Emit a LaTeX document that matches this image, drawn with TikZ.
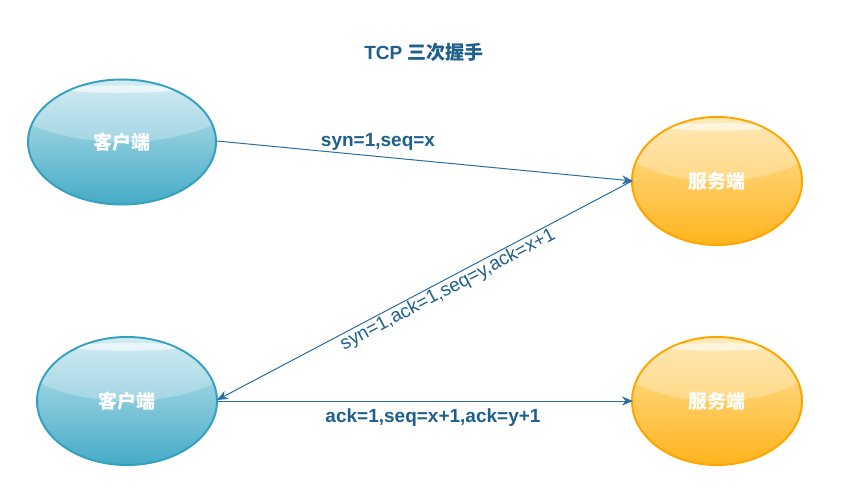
\documentclass[tikz,border=0pt]{standalone}
\usepackage{fontspec}
\setmainfont{Liberation Sans}
\newfontfamily\cjk{Noto Sans CJK SC}
\usetikzlibrary{shapes.geometric,arrows.meta}
\definecolor{lineblue}{HTML}{2B6CA3}
\definecolor{textblue}{HTML}{1E5F8C}
\definecolor{cliTop}{HTML}{C4E6EF}
\definecolor{cliBot}{HTML}{45ABC6}
\definecolor{cliDraw}{HTML}{35A0C0}
\definecolor{srvTop}{HTML}{FFE3A0}
\definecolor{srvBot}{HTML}{FFB41E}
\definecolor{srvDraw}{HTML}{FFA500}
\tikzset{
  base/.style={ellipse, line width=2pt, text=white, font=\fontsize{19}{22}\selectfont\cjk\bfseries, inner sep=0pt},
  client/.style={base, draw=cliDraw, top color=cliTop, bottom color=cliBot},
  server/.style={base, draw=srvDraw, top color=srvTop, bottom color=srvBot},
  conn/.style={draw=lineblue, line width=1pt, -{Stealth[length=11pt,width=9pt]}},
  lbl/.style={text=textblue, font=\fontsize{19}{22}\selectfont\bfseries, inner sep=1pt},
  lblr/.style={text=textblue, font=\fontsize{19}{22}\selectfont, inner sep=1pt}
}
\begin{document}
\begin{tikzpicture}[x=1pt,y=-1pt]
\useasboundingbox (0,0) rectangle (848,500);
\node[client, minimum width=188pt, minimum height=125pt] (c1) at (122,142) {};
\node[server, minimum width=170pt, minimum height=128pt] (s1) at (717,181) {};
\node[client, minimum width=180pt, minimum height=128pt] (c2) at (127,401) {};
\node[server, minimum width=170pt, minimum height=128pt] (s2) at (717,401) {};
% glossy highlights
\foreach \n/\rx/\ry in {c1/93/61.5, s1/84/63, c2/89/63, s2/84/63}{
  \begin{scope}
    \clip (\n.center) ellipse [x radius=\rx, y radius=\ry];
    \fill[white, opacity=0.25] ([yshift=\ry*0.92]\n.center) ellipse [x radius=\rx*1.35, y radius=\ry*0.92];
    \fill[white, opacity=0.6] ([yshift=\ry*0.86]\n.center) ellipse [x radius=\rx*0.62, y radius=\ry*0.06];
  \end{scope}
}
\node[base, draw=none, fill=none] (t1) at (c1.center) {客户端};
\node[base, draw=none, fill=none] (t2) at (s1.center) {服务端};
\node[base, draw=none, fill=none] (t3) at (c2.center) {客户端};
\node[base, draw=none, fill=none] (t4) at (s2.center) {服务端};
\node[text=textblue, font=\fontsize{19}{22}\selectfont\bfseries] (title) at (424,52) {TCP {\cjk 三次握手}};
\coordinate (a1) at (217,141);
\coordinate (b1) at (633,181);
\coordinate (a2) at (632,181);
\coordinate (b2) at (217,400);
\coordinate (a3) at (217,401);
\coordinate (b3) at (633,401);
\draw[conn] (a1) -- (b1);
\draw[conn] (a2) -- (b2);
\draw[conn] (a3) -- (b3);
\node[lbl] (l1) at (378,142) {syn=1,seq=x};
\node[lblr, rotate=27.8] (l2) at (448,290) {syn=1,ack=1,seq=y,ack=x+1};
\node[lbl] (l3) at (433,418) {ack=1,seq=x+1,ack=y+1};
\end{tikzpicture}
\end{document}
